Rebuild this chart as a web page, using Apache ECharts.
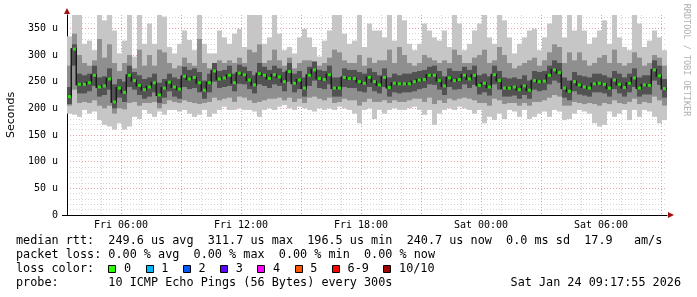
<!DOCTYPE html>
<html>
<head>
<meta charset="utf-8">
<script src="https://cdn.jsdelivr.net/npm/echarts@6/dist/echarts.min.js"></script>
<style>
html,body{margin:0;padding:0;background:#fff;}
#c{width:697px;height:297px;}
</style>
</head>
<body>
<div id="c"></div>
<script>
// ---- time base (hours since Fri 00:00), 15-minute bins ----
var startHour = 3.3;      // Fri 03:18
var endHour = 33.3;       // Sat 09:18
var stepHours = 0.25;

// ---- axis ticks ----
var yTicks = [0, 50, 100, 150, 200, 250, 300, 350];
var yMinorTicks = [10,20,30,40,60,70,80,90,110,120,130,140,160,170,180,190,210,220,230,240,260,270,280,290,310,320,330,340,360,370];
var xLabelHours = [6, 12, 18, 24, 30];
var xLabelTexts = ['Fri 06:00', 'Fri 12:00', 'Fri 18:00', 'Sat 00:00', 'Sat 06:00'];
var xMajorHours = [6, 9, 12, 15, 18, 21, 24, 27, 30, 33];
var xMinorHours = [4,5,7,8,10,11,13,14,16,17,19,20,22,23,25,26,28,29,31,32];

// ---- series values (microseconds) ----
var median = [222,311,245,245,248,262,240,242,255,212, 238,230,262,252,243,235,240,248,225,238, 249,240,236,260,255,258,248,234,248,270,
  255,257,262,248,266,263,253,244,265,262, 256,263,259,250,269,247,253,238,262,272, 256,254,263,238,238,258,256,256,250,247,
  258,250,244,258,239,247,246,246,246,250, 253,254,262,262,252,242,257,252,254,262, 255,262,243,247,240,263,252,238,238,240,
  235,242,234,252,250,251,262,272,267,238, 232,250,244,240,238,246,247,245,238,253, 245,239,247,257,238,244,243,272,261,237];

var maxRtt = [335,375,375,321,327,309,375,365,375,346, 303,327,375,297,375,321,359,321,375,372, 315,303,321,346,328,309,375,321,303,303,
  346,333,321,340,349,315,375,375,375,321, 333,375,340,309,315,303,333,349,333,315, 297,327,346,375,375,340,321,327,375,315,
  359,346,346,333,375,327,375,365,321,309, 321,359,346,333,327,346,315,375,359,309, 321,346,359,375,333,321,375,365,333,303,
  321,333,346,349,309,333,359,375,375,333, 375,346,375,346,321,333,346,365,321,375, 333,315,309,375,359,315,327,346,333,309];

var minRtt = [190,188,184,197,190,194,178,169,166,160, 172,160,166,184,180,197,190,184,194,188, 197,197,194,197,190,184,188,197,184,190,
  197,203,197,197,200,197,197,194,184,197, 200,197,203,206,200,197,203,200,197,194, 200,197,200,197,203,200,197,190,172,197,
  200,180,197,190,197,200,197,197,200,203, 197,188,197,169,190,197,200,197,203,200, 197,190,197,172,184,178,190,180,197,194,
  184,197,180,184,190,194,184,197,194,178, 180,190,197,194,190,172,166,169,194,184, 190,197,178,197,184,197,194,184,172,178];

var midHi = [280,340,300,285,280,290,330,295,320,285, 270,285,300,275,310,280,300,280,310,305, 285,275,280,295,285,280,330,285,275,285,
  290,285,290,285,295,285,310,305,320,285, 290,310,290,280,295,275,285,290,290,285, 280,285,295,310,305,290,285,285,300,280,
  295,285,290,290,310,285,315,300,285,280, 285,300,295,290,285,290,285,310,300,285, 285,295,300,310,285,290,315,300,285,275,
  280,285,290,295,280,290,305,320,315,285, 305,290,305,290,280,285,295,300,285,310, 285,280,285,305,295,280,285,300,295,280];

var midLo = [205,235,210,212,210,215,205,200,205,190, 200,198,210,212,205,210,210,212,200,208, 215,212,210,215,212,210,208,210,212,220,
  215,218,220,212,222,220,215,210,212,215, 218,218,220,215,220,212,218,210,220,222, 218,215,220,210,212,218,215,215,205,212,
  218,212,212,215,210,215,212,212,215,218, 218,212,220,208,215,210,218,215,218,220, 218,215,210,210,205,218,215,208,210,210,
  205,210,205,212,212,215,220,225,222,205, 205,212,210,208,210,208,205,210,208,215, 210,208,212,218,208,212,210,222,215,205];

var darkHi = [240,320,265,262,265,280,258,260,275,245, 255,250,280,268,262,255,258,265,248,255, 265,258,255,278,272,275,268,252,265,285,
  270,272,280,265,282,278,270,262,285,278, 272,280,275,268,285,265,270,258,278,288, 272,270,280,258,258,275,272,272,268,265,
  275,268,262,275,258,265,262,265,265,268, 270,272,278,280,270,260,275,270,270,278, 272,280,262,265,260,280,270,258,256,258,
  255,262,252,270,268,270,280,290,285,258, 252,268,262,260,258,265,265,262,258,270, 265,258,265,275,258,262,262,290,280,255];

var darkLo = [208,280,228,228,232,242,222,225,235,200, 220,212,240,235,225,218,222,230,210,220, 232,222,218,240,236,238,230,218,230,250,
  238,240,242,232,246,245,236,228,245,242, 238,245,242,232,250,230,236,222,242,252, 238,236,245,222,222,240,238,238,232,230,
  240,232,228,240,222,230,228,230,230,232, 236,238,245,244,235,225,240,235,236,245, 238,244,226,230,224,245,235,222,222,224,
  218,225,218,235,232,234,245,252,248,220, 215,232,226,224,222,230,230,228,222,236, 228,222,230,240,222,226,226,252,244,220];

// ---- legend texts ----
var statLine1 = 'median rtt:  249.6 us avg  311.7 us max  196.5 us min  240.7 us now  0.0 ms sd  17.9   am/s';
var statLine2 = 'packet loss: 0.00 % avg  0.00 % max  0.00 % min  0.00 % now';
var lossLabels = ['0', '1', '2', '3', '4', '5', '6-9', '10/10'];
var lossColors = ['#26ff00', '#00b8ff', '#0059ff', '#5e00ff', '#ff00fe', '#ff5500', '#ff0000', '#a10000'];
var probeLine = 'probe:       10 ICMP Echo Pings (56 Bytes) every 300s';
var stampText = 'Sat Jan 24 09:17:55 2026';

// ---- build data ----
var smokeData = [], medianData = [];
for (var i = 0; i < median.length; i++) {
  var t = startHour + (i + 0.5) * stepHours;
  var nextMed = i + 1 < median.length ? median[i + 1] : median[i];
  smokeData.push([t, minRtt[i], maxRtt[i], midLo[i], midHi[i], darkLo[i], darkHi[i], median[i], nextMed]);
  medianData.push([t, median[i]]);
}

var mono = 'DejaVu Sans Mono';
var cw = 7.1, lx = 16;
var graphics = [];
graphics.push({type:'text', left:lx, top:235, style:{text:statLine1, font:'11.8px "DejaVu Sans Mono"', fill:'#000'}});
graphics.push({type:'text', left:lx, top:249, style:{text:statLine2, font:'11.8px "DejaVu Sans Mono"', fill:'#000'}});
graphics.push({type:'text', left:lx, top:263, style:{text:'loss color:', font:'11.8px "DejaVu Sans Mono"', fill:'#000'}});
var col = 13;
for (var k = 0; k < lossLabels.length; k++) {
  var bx = lx + col * cw;
  graphics.push({type:'rect', shape:{x:Math.round(bx)+0.5, y:265.5, width:7, height:7}, style:{fill:lossColors[k], stroke:'#000', lineWidth:1}});
  graphics.push({type:'text', x:bx + 2.2 * cw, y:263, style:{text:lossLabels[k], font:'11.8px "DejaVu Sans Mono"', fill:'#000'}});
  col += 2.25 + lossLabels[k].length + 2;
}
graphics.push({type:'text', left:lx, top:277, style:{text:probeLine, font:'11.8px "DejaVu Sans Mono"', fill:'#000'}});
graphics.push({type:'text', x:681, y:277, style:{text:stampText, font:'11.8px "DejaVu Sans Mono"', fill:'#000', textAlign:'right'}});
graphics.push({type:'text', x:686, y:60, rotation:-Math.PI/2, style:{text:'RRDTOOL / TOBI OETIKER', font:'8.5px "DejaVu Sans Mono"', fill:'#b0b0b0', textAlign:'center', textVerticalAlign:'middle'}});
graphics.push({type:'polygon', shape:{points:[[64,14],[70,14],[67,8]]}, style:{fill:'#a01010'}});
graphics.push({type:'polygon', shape:{points:[[668,212],[668,218],[674,215]]}, style:{fill:'#a01010'}});
graphics.push({type:'line', shape:{x1:62, y1:215.5, x2:67, y2:215.5}, style:{stroke:'#000', lineWidth:1}});

var chart = echarts.init(document.getElementById('c'), null, {renderer:'canvas'});
chart.setOption({
  animation: false,
  backgroundColor: '#ffffff',
  grid: {left:67, top:15, width:600, height:200, containLabel:false, outerBoundsMode:'none'},
  xAxis: [{
    type:'value', min:startHour, max:endHour,
    axisLine:{show:true, onZero:false, lineStyle:{color:'#000', width:1}},
    axisTick:{show:false, customValues:xMajorHours},
    axisLabel:{customValues:xLabelHours, margin:5, fontFamily:mono, fontSize:10, color:'#000',
      formatter:function(v){ var idx = xLabelHours.indexOf(Math.round(v)); return idx >= 0 ? xLabelTexts[idx] : ''; }},
    splitLine:{show:true, lineStyle:{color:'#eaa0a0', width:1, type:[1,2]}}
  }, {
    type:'value', min:startHour, max:endHour,
    axisLine:{show:false}, axisLabel:{show:false},
    axisTick:{show:false, customValues:xMinorHours},
    splitLine:{show:true, lineStyle:{color:'#d4d4d4', width:1, type:[1,2]}}
  }],
  yAxis: [{
    type:'value', min:0, max:375,
    name:'Seconds', nameLocation:'middle', nameGap:50, nameRotate:90,
    nameTextStyle:{fontFamily:'DejaVu Sans', fontSize:11, color:'#000'},
    axisLine:{show:true, lineStyle:{color:'#000', width:1}},
    axisTick:{show:false, customValues:yTicks},
    axisLabel:{customValues:yTicks, margin:9, fontFamily:mono, fontSize:10, color:'#000',
      formatter:function(v){ return v === 0 ? '0' : v + ' u'; }},
    splitLine:{show:true, lineStyle:{color:'#eaa0a0', width:1, type:[1,2]}}
  }, {
    type:'value', min:0, max:375, position:'left',
    axisLine:{show:false}, axisLabel:{show:false},
    axisTick:{show:false, customValues:yMinorTicks},
    splitLine:{show:true, lineStyle:{color:'#d4d4d4', width:1, type:[1,2]}}
  }],
  series: [{
    type:'custom',
    xAxisIndex:0, yAxisIndex:0,
    clip:true,
    encode:{x:0, y:[1,2]},
    data: smokeData,
    renderItem: function(params, api){
      var t = api.value(0);
      var w = api.size([stepHours, 0])[0];
      var layers = [[1,2,'#c6c6c6'],[3,4,'#8f8f8f'],[5,6,'#525252']];
      var children = [];
      for (var j = 0; j < layers.length; j++) {
        var top = api.coord([t, api.value(layers[j][1])]);
        var bot = api.coord([t, api.value(layers[j][0])]);
        children.push({type:'rect', shape:{x:top[0]-w/2, y:top[1], width:w, height:bot[1]-top[1]}, style:{fill:layers[j][2]}});
      }
      // dark stroke joining this median to the next one
      var a = api.coord([t + stepHours / 2, api.value(7)]);
      var b = api.coord([t + stepHours / 2, api.value(8)]);
      var y1 = Math.min(a[1], b[1]) - 1, y2 = Math.max(a[1], b[1]) + 1;
      children.push({type:'rect', shape:{x:a[0]-1.5, y:y1, width:2, height:y2-y1}, style:{fill:'#1a1a1a'}});
      return {type:'group', children:children};
    }
  }, {
    type:'scatter',
    xAxisIndex:0, yAxisIndex:0,
    symbol:'rect', symbolSize:[3,3],
    itemStyle:{color:'#26ff00'},
    data: medianData,
    z: 5
  }],
  graphic: graphics
});
</script>
</body>
</html>
